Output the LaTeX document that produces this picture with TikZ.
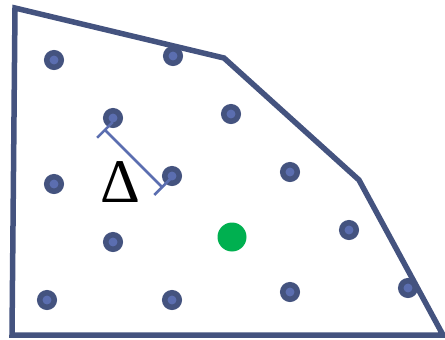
\documentclass[tikz,border=0pt]{standalone}
\usepackage{fontspec}
\newfontfamily\deltafont{Liberation Serif}
\definecolor{FrameBlue}{HTML}{44537F}
\definecolor{DotBlue}{HTML}{5B6EB0}
\definecolor{CenterGreen}{HTML}{00B050}
\usetikzlibrary{arrows.meta}
\tikzset{
  frame/.style={draw=FrameBlue, line width=5.5pt, line join=miter},
  latticeDot/.style={circle, draw=FrameBlue, fill=DotBlue, line width=5.5pt, minimum size=14.5pt, inner sep=0pt},
  centerDot/.style={circle, fill=CenterGreen, minimum size=29pt, inner sep=0pt},
  spacingLine/.style={{Bar[width=22pt]}-{Bar[width=22pt]}, draw=DotBlue, line width=2.6pt}
}

\begin{document}
\begin{tikzpicture}[x=1pt, y=-1pt]
\useasboundingbox (0,0) rectangle (445,340);
% region boundary
\draw[frame] (15,8) -- (224,58) -- (359,180) -- (443,335) -- (12,335) -- cycle;
% lattice points
\foreach \name/\px/\py in {d1/54/60, d2/173/56, d3/113/118, d4/231/114,
    d5/54/184, d6/172/176, d7/290/172, d8/113/242, d9/349/230,
    d10/47/300, d11/172/300, d12/290/292, d13/408/288}
  \node[latticeDot] (\name) at (\px,\py) {};
\node[centerDot] (center) at (232,237) {};
% lattice spacing
\coordinate (spA) at (104,129);
\coordinate (spB) at (163,188);
\draw[spacingLine] (spA) -- (spB);
\node[font=\deltafont\fontsize{62}{62}\selectfont, inner sep=0pt] (delta) at (120,182) {Δ};
\end{tikzpicture}
\end{document}
